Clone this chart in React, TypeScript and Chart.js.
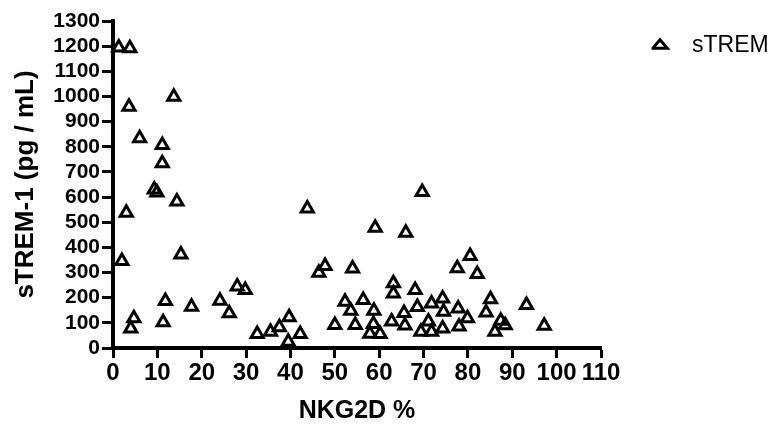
import React, { useEffect, useRef } from "react";
import { Chart, registerables } from "chart.js";

Chart.register(...registerables);

const seriesLabel = "sTREM";
const xTitle = "NKG2D %";
const yTitle = "sTREM-1 (pg / mL)";

const nkg2d = [
  1.3, 3.8, 13.7, 3.6, 6.0, 11.1, 11.1, 9.3, 9.9, 14.4, 3.0, 15.3, 2.0, 11.8, 17.7, 4.7, 4.0, 11.3,
  43.8, 47.8, 46.4, 28.0, 29.8, 24.1, 26.2, 32.5, 35.5, 37.5, 39.7, 42.2, 39.5, 50.0, 52.3,
  69.7, 59.1, 66.0, 54.0, 77.6, 63.2, 63.2, 68.1, 56.4, 53.6, 58.8, 65.6, 68.6, 71.8, 74.3, 74.5, 77.8,
  54.6, 58.7, 62.8, 65.8, 57.9, 60.2, 69.4, 71.1, 71.8, 74.3, 78.0,
  80.5, 82.1, 85.1, 84.1, 79.9, 86.1, 87.4, 88.4, 93.2, 97.2,
];
const strem = [
  1195, 1192, 999, 959, 834, 807, 734, 630, 618, 582, 538, 372, 346, 187, 164, 118, 78, 102,
  555, 326, 299, 244, 231, 188, 138, 56, 65, 82, 122, 56, 25, 91, 184,
  620, 478, 458, 316, 317, 257, 217, 231, 191, 148, 148, 139, 163, 177, 197, 144, 157,
  91, 95, 105, 89, 57, 56, 65, 105, 65, 78, 85,
  366, 294, 194, 141, 118, 65, 108, 90, 171, 88,
];

const FONT = "'Liberation Sans', Arial, Helvetica, sans-serif";
const LEGEND_SIZE = 23;

const placeLegend = {
  id: "placeLegend",
  afterLayout(chart: any) {
    const lg = chart.legend;
    if (!lg) return;
    const ctx = chart.ctx;
    ctx.save();
    ctx.font = `${LEGEND_SIZE}px ${FONT}`;
    const w = ctx.measureText(seriesLabel).width;
    ctx.restore();
    lg.left = 651.5;
    lg.right = 692 + w;
    lg.top = 34;
    lg.bottom = 80;
  },
};

export default function App() {
  const ref = useRef<HTMLCanvasElement | null>(null);
  useEffect(() => {
    if (!ref.current) return;
    const chart = new Chart(ref.current, {
      type: "scatter",
      data: {
        datasets: [
          {
            label: seriesLabel,
            data: nkg2d.map((x, i) => ({ x, y: strem[i] })),
            pointStyle: "triangle",
            pointRadius: 7,
            pointBorderWidth: 3,
            pointBorderColor: "#000",
            pointBackgroundColor: "rgba(0,0,0,0)",
            clip: false as any,
          },
        ],
      },
      options: {
        animation: false,
        responsive: false,
        devicePixelRatio: 1,
        layout: { padding: { left: 0, top: 21, right: 175, bottom: 0 } },
        plugins: {
          legend: {
            position: "chartArea" as any,
            align: "start",
            labels: {
              usePointStyle: true,
              pointStyleWidth: 17,
              boxHeight: 8,
              padding: 0,
              textAlign: "right",
              color: "#000",
              font: { family: FONT, size: LEGEND_SIZE },
            },
          },
          tooltip: { enabled: false },
        },
        scales: {
          x: {
            type: "linear",
            min: 0,
            max: 110,
            afterFit: (s: any) => {
              s.height = 76;
            },
            ticks: {
              stepSize: 10,
              autoSkip: false,
              maxRotation: 0,
              padding: 1,
              color: "#000",
              callback: (v: any) => String(v),
              font: { family: FONT, size: 24, weight: "bold" },
            },
            grid: {
              display: true,
              drawOnChartArea: false,
              drawTicks: true,
              tickLength: 10,
              tickWidth: 3,
              tickColor: "#000",
            },
            border: { display: true, width: 4, color: "#000" },
            title: {
              display: true,
              text: xTitle,
              color: "#000",
              padding: { top: 0, bottom: 0 },
              font: { family: FONT, size: 25, weight: "bold", lineHeight: 1 },
            },
          },
          y: {
            type: "linear",
            min: 0,
            max: 1300,
            afterFit: (s: any) => {
              s.width = 113;
            },
            ticks: {
              stepSize: 100,
              autoSkip: false,
              padding: 2,
              color: "#000",
              callback: (v: any) => String(v),
              font: { family: FONT, size: 21, weight: "bold" },
            },
            grid: {
              display: true,
              drawOnChartArea: false,
              drawTicks: true,
              tickLength: 11,
              tickWidth: 3,
              tickColor: "#000",
            },
            border: { display: true, width: 4, color: "#000" },
            title: {
              display: true,
              text: yTitle,
              color: "#000",
              padding: { top: 13, bottom: 0 },
              font: { family: FONT, size: 26, weight: "bold", lineHeight: 1 },
            },
          },
        },
      },
      plugins: [placeLegend],
    });
    return () => chart.destroy();
  }, []);
  return (
    <div style={{ position: "absolute", left: 0, top: 0, width: 776, height: 424, overflow: "hidden", background: "#fff" }}>
      <canvas ref={ref} width={776} height={424} style={{ display: "block" }} />
    </div>
  );
}
